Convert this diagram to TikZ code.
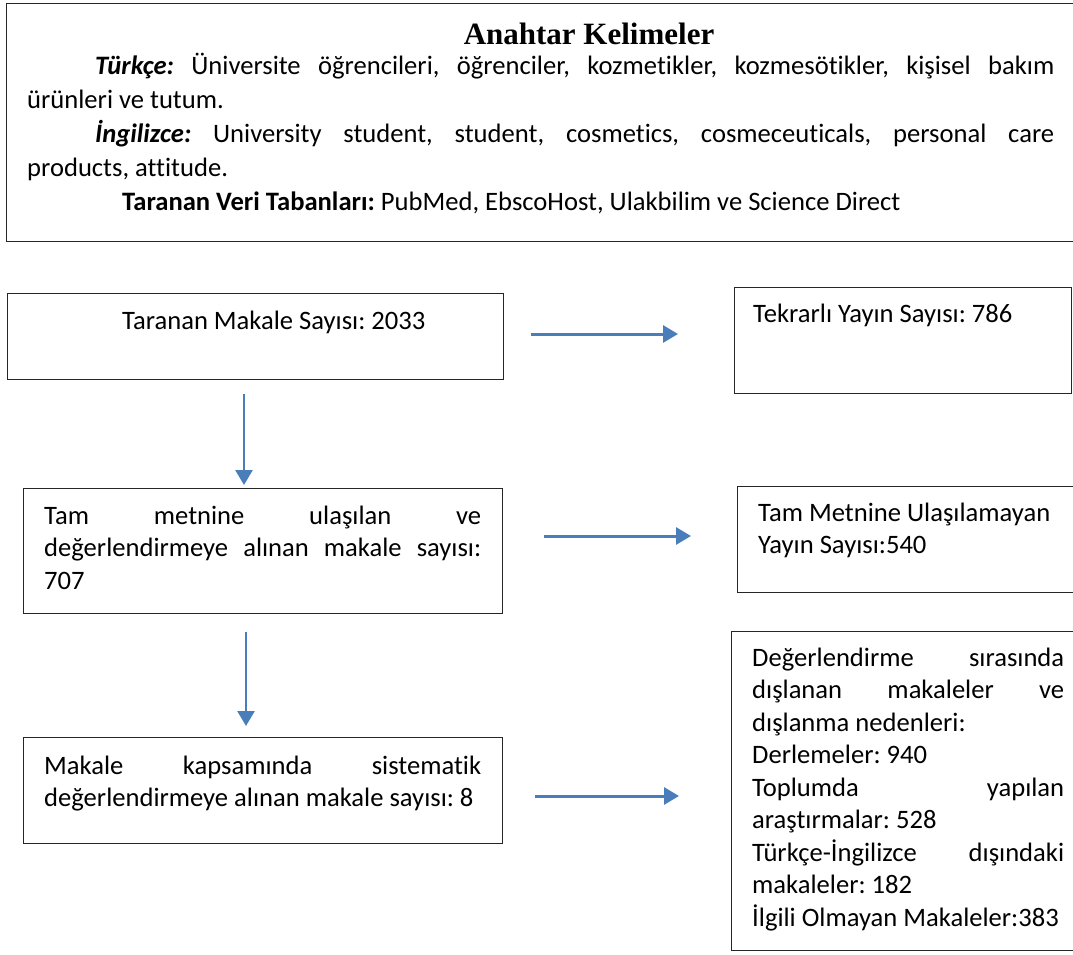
\documentclass[tikz,border=0pt]{standalone}
\usepackage{fontspec}
\setmainfont{Carlito}[Ligatures=NoCommon]
\newfontfamily\titlefont{Liberation Serif}
\usetikzlibrary{arrows.meta}
\definecolor{arrowblue}{RGB}{74,126,187}
\frenchspacing
\begin{document}
\begin{tikzpicture}[x=1pt,y=-1pt,
  boxst/.style={draw=black!85,line width=1.4pt,inner sep=0pt,anchor=north west},
  txt/.style={inner sep=0pt,anchor=base west,font=\fontsize{26.6pt}{32.5pt}\selectfont},
  arr/.style={draw=arrowblue,line width=3pt,-{Triangle[length=15pt,width=17pt]}},
  varr/.style={arr,line width=2.5pt}]
\path[use as bounding box] (0,0) rectangle (1073,954);
\fill[white] (0,0) rectangle (1073,954);
\clip (0,0) rectangle (1073,954);

% keyword box
\node[boxst,minimum width=1068pt,minimum height=238pt] (top) at (6,3) {};
\node[txt,anchor=base,font=\titlefont\bfseries\fontsize{31pt}{36pt}\selectfont] (title) at (589,44) {Anahtar Kelimeler};
\node[txt,font=\fontsize{26.6pt}{34pt}\selectfont] (keys) at (27,74) {\parbox[t]{1027pt}{%
\hspace*{68pt}\makebox[959pt][s]{\textbf{\textit{Türkçe:}} Üniversite öğrencileri, öğrenciler, kozmetikler, kozmesötikler, kişisel bakım}\\
ürünleri ve tutum.\\
\hspace*{68pt}\makebox[959pt][s]{\textbf{\textit{İngilizce:}} University student, student, cosmetics, cosmeceuticals, personal care}\\
products, attitude.\\
\hspace*{95pt}\textbf{Taranan Veri Tabanları:} PubMed, EbscoHost, Ulakbilim ve Science Direct}};

% flow boxes
\node[boxst,minimum width=496pt,minimum height=86pt] (b1) at (7,293) {};
\node[txt] (t1) at (122,329) {Taranan Makale Sayısı: 2033};

\node[boxst,minimum width=337pt,minimum height=106pt] (b2) at (734,287) {};
\node[txt] (t2) at (753,322) {Tekrarlı Yayın Sayısı: 786};

\node[boxst,minimum width=479pt,minimum height=125pt] (b3) at (23,488) {};
\node[txt] (t3) at (44,524) {\parbox[t]{437pt}{%
\makebox[437pt][s]{Tam metnine ulaşılan ve}\\
\makebox[437pt][s]{değerlendirmeye alınan makale sayısı:}\\
707}};

\node[boxst,minimum width=360pt,minimum height=106pt] (b4) at (737,486) {};
\node[txt] (t4) at (758,521) {\parbox[t]{320pt}{Tam Metnine Ulaşılamayan\\Yayın Sayısı:540}};

\node[boxst,minimum width=479pt,minimum height=106pt] (b5) at (23,737) {};
\node[txt] (t5) at (44,774) {\parbox[t]{437pt}{%
\makebox[437pt][s]{Makale kapsamında sistematik}\\
değerlendirmeye alınan makale sayısı: 8}};

\node[boxst,minimum width=360pt,minimum height=319pt] (b6) at (731,631) {};
\node[txt] (t6) at (752,666) {\parbox[t]{312pt}{%
\makebox[312pt][s]{Değerlendirme sırasında}\\
\makebox[312pt][s]{dışlanan makaleler ve}\\
dışlanma nedenleri:\\
Derlemeler: 940\\
\makebox[312pt][s]{Toplumda yapılan}\\
araştırmalar: 528\\
\makebox[312pt][s]{Türkçe-İngilizce dışındaki}\\
makaleler: 182\\
İlgili Olmayan Makaleler:383}};

% connectors
\coordinate (ya1) at (0,334);
\coordinate (ya2) at (0,536);
\coordinate (ya3) at (0,796);
\coordinate (xv1) at (244,0);
\coordinate (xv2) at (246,0);
\draw[arr,shorten <=27pt,shorten >=56pt] (b1.east |- ya1) -- (b2.west |- ya1);
\draw[varr,shorten <=14pt,shorten >=3pt] (xv1 |- b1.south) -- (xv1 |- b3.north);
\draw[arr,shorten <=41pt,shorten >=46pt] (b3.east |- ya2) -- (b4.west |- ya2);
\draw[varr,shorten <=18pt,shorten >=11pt] (xv2 |- b3.south) -- (xv2 |- b5.north);
\draw[arr,shorten <=32pt,shorten >=52pt] (b5.east |- ya3) -- (b6.west |- ya3);
\end{tikzpicture}
\end{document}
